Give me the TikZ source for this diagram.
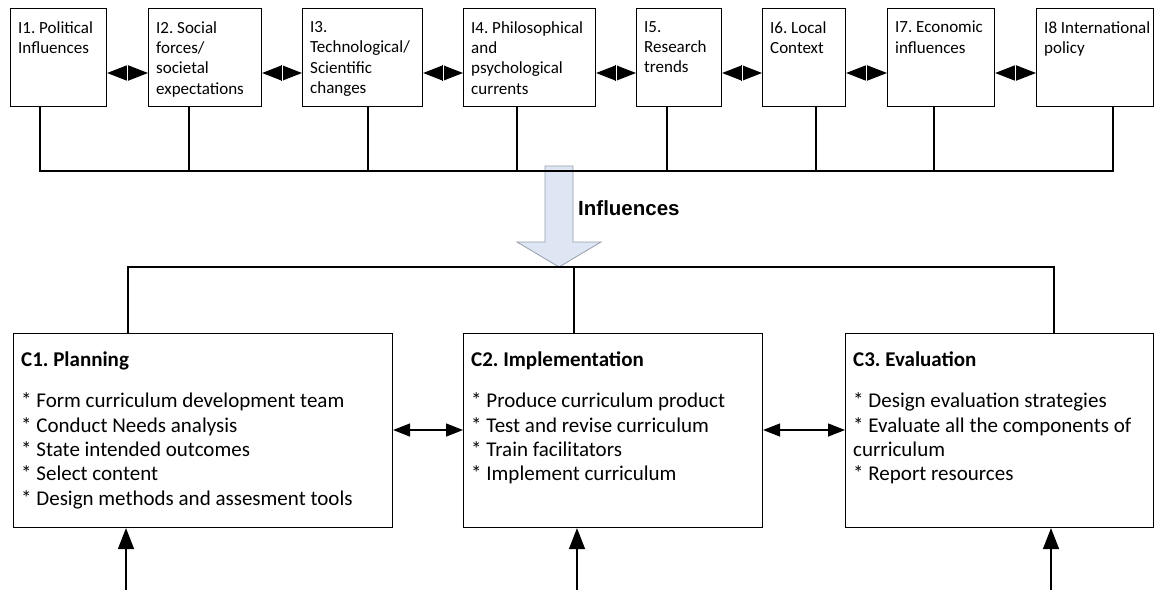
\documentclass[tikz,border=0pt]{standalone}
\usepackage{fontspec}
\setmainfont{Carlito}
\newfontfamily\arialfont{Liberation Sans}
\usetikzlibrary{arrows.meta}
\begin{document}
\frenchspacing
\begin{tikzpicture}[x=1pt,y=-1pt,
  box/.style={draw, line width=1.1pt, inner sep=0pt, anchor=north west},
  ibox/.style={box, minimum height=98pt},
  cbox/.style={box, minimum height=194pt},
  itext/.style={anchor=north west, inner sep=0pt, align=left, font=\fontsize{17}{20.4}\selectfont},
  ctext/.style={anchor=north west, inner sep=0pt, align=left, font=\fontsize{21}{24.3}\selectfont},
  wire/.style={line width=1.6pt, line join=miter},
  kite/.style={line width=1.2pt, {Triangle[length=21pt,width=16pt]}-{Triangle[length=21pt,width=16pt]}},
  kitegap/.style={draw=white, line width=1.1pt},
  carrow/.style={line width=1.4pt, {Triangle[length=17pt,width=13pt]}-{Triangle[length=17pt,width=13pt]}},
  uparrow/.style={line width=1.6pt, -{Triangle[length=21pt,width=16pt]}},
  blockarrow/.style={fill={rgb,255:red,221;green,230;blue,242}, draw={rgb,255:red,150;green,158;blue,172}, line width=0.8pt, line join=miter},
  infl/.style={anchor=west, inner sep=0pt, font=\arialfont\bfseries\fontsize{20.5}{24}\selectfont}
]
\useasboundingbox (0,0) rectangle (1155,590);

% top influence boxes
\node[ibox, minimum width=96pt]  (i1) at (10,8)   {};
\node[ibox, minimum width=113pt] (i2) at (148,8)  {};
\node[ibox, minimum width=120pt] (i3) at (302,8)  {};
\node[ibox, minimum width=132pt] (i4) at (463,8)  {};
\node[ibox, minimum width=85pt]  (i5) at (636,8)  {};
\node[ibox, minimum width=83pt]  (i6) at (762,8)  {};
\node[ibox, minimum width=107pt] (i7) at (887,8)  {};
\node[ibox, minimum width=117pt] (i8) at (1036,8) {};

\node[itext] (i1t) at ([xshift=8pt,yshift=-13pt]i1.north west) {I1. Political\\Influences};
\node[itext] (i2t) at ([xshift=8pt,yshift=-13pt]i2.north west) {I2. Social\\forces/\\societal\\expectations};
\node[itext] (i3t) at ([xshift=8pt,yshift=-13pt]i3.north west) {I3.\\Technological/\\Scientific\\changes};
\node[itext] (i4t) at ([xshift=8pt,yshift=-13pt]i4.north west) {I4. Philosophical\\and\\psychological\\currents};
\node[itext] (i5t) at ([xshift=8pt,yshift=-13pt]i5.north west) {I5.\\Research\\trends};
\node[itext] (i6t) at ([xshift=8pt,yshift=-13pt]i6.north west) {I6. Local\\Context};
\node[itext] (i7t) at ([xshift=8pt,yshift=-13pt]i7.north west) {I7. Economic\\influences};
\node[itext] (i8t) at ([xshift=8pt,yshift=-13pt]i8.north west) {I8 International\\policy};

% kite connectors between influence boxes
\foreach \a/\b [count=\k] in {i1/i2,i2/i3,i3/i4,i4/i5,i5/i6,i6/i7,i7/i8}{
  \draw[kite] ([yshift=-65pt]\a.north east) -- ([yshift=-65pt]\b.north west) coordinate[pos=0.5] (k\k);
  \draw[kitegap] ([yshift=8pt]k\k) -- ([yshift=-8pt]k\k);
}

% block arrow (drawn before the bus)
\draw[blockarrow] (545,166) -- (573,166) -- (573,242) -- (601,242) -- (559,267) -- (517,242) -- (545,242) -- cycle;

% top bus
\coordinate (t1) at (40,171);
\coordinate (t2) at (189,171);
\coordinate (t3) at (368,171);
\coordinate (t4) at (517,171);
\coordinate (t5) at (667,171);
\coordinate (t6) at (816,171);
\coordinate (t7) at (934,171);
\coordinate (t8) at (1113,171);
\draw[wire] (t1 |- i1.south) -- (t1) -- (t8) -- (t8 |- i8.south);
\draw[wire] (t2) -- (t2 |- i2.south);
\draw[wire] (t3) -- (t3 |- i3.south);
\draw[wire] (t4) -- (t4 |- i4.south);
\draw[wire] (t5) -- (t5 |- i5.south);
\draw[wire] (t6) -- (t6 |- i6.south);
\draw[wire] (t7) -- (t7 |- i7.south);

\node[infl] (infl) at (578,208) {Influences};

% curriculum boxes
\node[cbox, minimum width=379pt] (c1) at (13,333)  {};
\node[cbox, minimum width=299pt] (c2) at (463,333) {};
\node[cbox, minimum width=308pt] (c3) at (845,333) {};

\node[ctext] (c1t) at ([xshift=8pt,yshift=-19pt]c1.north west)
  {{\bfseries C1. Planning}\\[16.7pt]* Form curriculum development team\\* Conduct Needs analysis\\* State intended outcomes\\* Select content\\* Design methods and assesment tools};
\node[ctext] (c2t) at ([xshift=8pt,yshift=-19pt]c2.north west)
  {{\bfseries C2. Implementation}\\[16.7pt]* Produce curriculum product\\* Test and revise curriculum\\* Train facilitators\\* Implement curriculum};
\node[ctext] (c3t) at ([xshift=8pt,yshift=-19pt]c3.north west)
  {{\bfseries C3. Evaluation}\\[16.7pt]* Design evaluation strategies\\* Evaluate all the components of\\curriculum\\* Report resources};

% lower bus
\coordinate (d1) at (128,267);
\coordinate (d2) at (574,267);
\coordinate (d3) at (1054,267);
\draw[wire] (d1 |- c1.north) -- (d1) -- (d3) -- (d3 |- c3.north);
\draw[wire] (d2) -- (d2 |- c2.north);

% arrows between curriculum boxes
\draw[carrow] ([yshift=-97pt]c1.north east) -- ([yshift=-97pt]c2.north west);
\draw[carrow] ([yshift=-97pt]c2.north east) -- ([yshift=-97pt]c3.north west);

% bottom up arrows
\coordinate (u1) at (126,590);
\coordinate (u2) at (577,590);
\coordinate (u3) at (1051,590);
\draw[uparrow] (u1) -- (u1 |- c1.south);
\draw[uparrow] (u2) -- (u2 |- c2.south);
\draw[uparrow] (u3) -- (u3 |- c3.south);
\end{tikzpicture}
\end{document}
